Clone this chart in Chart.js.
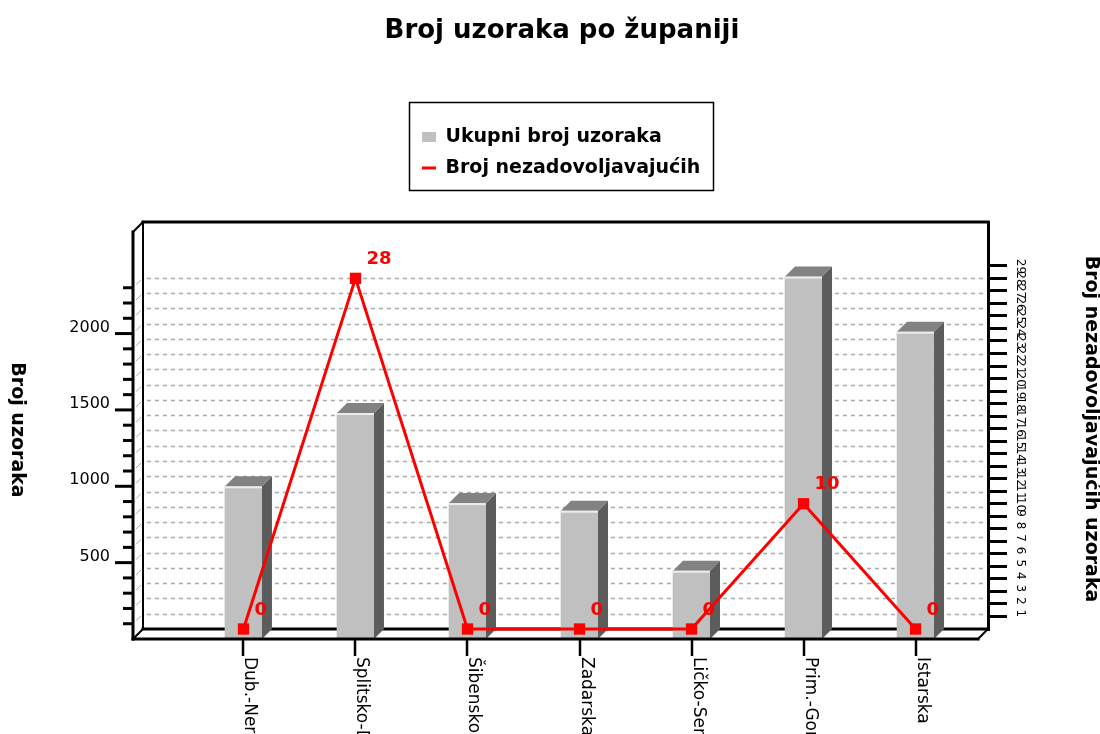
<!DOCTYPE html>
<html>
<head>
<meta charset="utf-8">
<script src="https://cdn.jsdelivr.net/npm/chart.js@4.4.1/dist/chart.umd.min.js"></script>
<style>
  html, body { margin: 0; padding: 0; background: #ffffff; }
  #wrap { width: 1100px; height: 734px; }
</style>
</head>
<body>
<div id="wrap"><canvas id="c" width="1100" height="734"></canvas></div>
<script>
// ---------- data ----------
const chartTitle = 'Broj uzoraka po županiji';
const categories = ['Dub.-Neretvanska', 'Splitsko-Dalmatinska', 'Šibensko-kninska', 'Zadarska', 'Ličko-Senjska', 'Prim.-Goranska', 'Istarska'];
const totalSamples = [1000, 1480, 890, 840, 447, 2373, 2012];
const nonCompliant = [0, 28, 0, 0, 0, 10, 0];
const seriesNames = ['Ukupni broj uzoraka', 'Broj nezadovoljavajućih'];
const leftAxisTitle = 'Broj uzoraka';
const rightAxisTitle = 'Broj nezadovoljavajućih uzoraka';
const leftTickLabels = [500, 1000, 1500, 2000];
const leftMinorTicks = [100, 200, 300, 400, 500, 600, 700, 800, 900, 1000, 1100, 1200, 1300, 1400, 1500, 1600, 1700, 1800, 1900, 2000, 2100, 2200, 2300];
const rightTickLabels = [1, 2, 3, 4, 5, 6, 7, 8, 9, 10, 11, 12, 13, 14, 15, 16, 17, 18, 19, 20, 21, 22, 23, 24, 25, 26, 27, 28, 29];

// ---------- style / layout ----------
const FONT = "'DejaVu Sans', 'Liberation Sans', Arial, sans-serif";
const DX = 10, DY = 10;              // 3D depth offset
const LEGEND_BOX = { x: 409, y: 102, w: 304, h: 88 };

const frame3d = {
  id: 'frame3d',
  afterLayout(chart) {
    const lg = chart.legend;
    if (!lg) return;
    lg.left = LEGEND_BOX.x + 1;
    lg.right = lg.left + 320;
    lg.top = LEGEND_BOX.y + 13.5;
    lg.bottom = lg.top + 200;
    lg.width = lg.right - lg.left;
    lg.height = lg.bottom - lg.top;
  },
  beforeDatasetsDraw(chart) {
    const { ctx, chartArea: a, scales } = chart;
    const y = scales.y, x = scales.x;
    ctx.save();
    // back-wall dashed grid
    ctx.strokeStyle = '#a9a9a9';
    ctx.lineWidth = 1.5;
    ctx.setLineDash([4, 4]);
    leftMinorTicks.forEach(v => {
      const py = Math.round(y.getPixelForValue(v) - DY) + 0.5;
      ctx.beginPath(); ctx.moveTo(a.left + 4, py); ctx.lineTo(a.right - 2, py); ctx.stroke();
    });
    ctx.setLineDash([]);
    ctx.lineWidth = 1;
    leftMinorTicks.forEach(v => {
      const py = y.getPixelForValue(v);
      ctx.beginPath(); ctx.moveTo(a.left - DX + 3, py - 3); ctx.lineTo(a.left - 2, py - DY + 2); ctx.stroke();
    });
    // 3D frame
    ctx.strokeStyle = '#000';
    ctx.lineCap = 'square';
    ctx.lineWidth = 2;
    ctx.beginPath(); ctx.moveTo(a.left, a.top); ctx.lineTo(a.left, a.bottom); ctx.stroke();
    ctx.lineWidth = 3;
    ctx.beginPath(); ctx.moveTo(a.left, a.top); ctx.lineTo(a.right, a.top); ctx.stroke();
    ctx.beginPath(); ctx.moveTo(a.left, a.bottom); ctx.lineTo(a.right, a.bottom); ctx.stroke();
    ctx.beginPath(); ctx.moveTo(a.left - DX, a.top + DY); ctx.lineTo(a.left - DX, a.bottom + DY); ctx.stroke();
    ctx.lineWidth = 2;
    ctx.beginPath(); ctx.moveTo(a.left - DX, a.top + DY); ctx.lineTo(a.left, a.top); ctx.stroke();
    ctx.beginPath(); ctx.moveTo(a.left - DX, a.bottom + DY); ctx.lineTo(a.left, a.bottom); ctx.stroke();
    // left axis tick marks on the front plane
    ctx.lineCap = 'butt';
    ctx.lineWidth = 3;
    leftMinorTicks.forEach(v => {
      const py = y.getPixelForValue(v);
      const len = (v % 500 === 0) ? 18 : 10;
      ctx.beginPath(); ctx.moveTo(a.left - DX - len, py); ctx.lineTo(a.left - DX, py); ctx.stroke();
    });
    // category tick marks
    ctx.lineWidth = 2.5;
    categories.forEach((c, i) => {
      const px = Math.round(x.getPixelForValue(i));
      ctx.beginPath(); ctx.moveTo(px, a.bottom + DY); ctx.lineTo(px, a.bottom + DY + 17); ctx.stroke();
    });
    ctx.restore();
  },
  afterDatasetDraw(chart, args) {
    if (args.index !== 0) return;
    const { ctx, chartArea: a } = chart;
    ctx.save();
    args.meta.data.forEach(bar => {
      const { x, y, base, width } = bar.getProps(['x', 'y', 'base', 'width'], true);
      const l = x - width / 2, r = x + width / 2;
      ctx.fillStyle = '#5c5c5c';
      ctx.beginPath(); ctx.moveTo(r, y); ctx.lineTo(r + DX, y - DY); ctx.lineTo(r + DX, base - DY); ctx.lineTo(r, base); ctx.closePath(); ctx.fill();
      ctx.fillStyle = '#828282';
      ctx.beginPath(); ctx.moveTo(l, y); ctx.lineTo(l + DX, y - DY); ctx.lineTo(r + DX, y - DY); ctx.lineTo(r, y); ctx.closePath(); ctx.fill();
      ctx.fillStyle = '#ececec';
      ctx.fillRect(l, y, width, 2);
    });
    // front floor edge
    ctx.strokeStyle = '#000';
    ctx.lineWidth = 3;
    ctx.lineCap = 'square';
    ctx.beginPath(); ctx.moveTo(a.left - DX, a.bottom + DY); ctx.lineTo(a.right - DX, a.bottom + DY); ctx.stroke();
    ctx.lineWidth = 2;
    ctx.beginPath(); ctx.moveTo(a.right - DX, a.bottom + DY); ctx.lineTo(a.right, a.bottom); ctx.stroke();
    ctx.restore();
  },
  afterDatasetsDraw(chart) {
    const { ctx, chartArea: a, scales } = chart;
    ctx.save();
    // value labels of the line series
    const lineMeta = chart.getDatasetMeta(1);
    ctx.fillStyle = '#ff0000';
    ctx.font = 'bold 18px ' + FONT;
    ctx.textAlign = 'left';
    ctx.textBaseline = 'middle';
    lineMeta.data.forEach((pt, i) => {
      ctx.fillText(String(nonCompliant[i]), pt.x + 11, pt.y - 19);
    });
    // category labels, rotated clockwise
    ctx.fillStyle = '#000';
    ctx.font = '17px ' + FONT;
    ctx.textBaseline = 'alphabetic';
    categories.forEach((c, i) => {
      const px = scales.x.getPixelForValue(i);
      ctx.save();
      ctx.translate(px + 2, a.bottom + DY + 18);
      ctx.rotate(Math.PI / 2);
      ctx.fillText(c, 0, 0);
      ctx.restore();
    });
    ctx.restore();
  },
  afterDraw(chart) {
    const { ctx } = chart;
    ctx.save();
    ctx.fillStyle = '#000';
    ctx.textAlign = 'center';
    ctx.textBaseline = 'middle';
    ctx.font = 'bold 26px ' + FONT;
    ctx.fillText(chartTitle, 562, 31);
    ctx.font = 'bold 19px ' + FONT;
    ctx.save(); ctx.translate(17, 430); ctx.rotate(Math.PI / 2); ctx.fillText(leftAxisTitle, 0, 0); ctx.restore();
    ctx.save(); ctx.translate(1091, 429); ctx.rotate(Math.PI / 2); ctx.fillText(rightAxisTitle, 0, 0); ctx.restore();
    ctx.strokeStyle = '#000';
    ctx.lineWidth = 1.5;
    ctx.strokeRect(LEGEND_BOX.x + 0.5, LEGEND_BOX.y + 0.5, LEGEND_BOX.w, LEGEND_BOX.h);
    ctx.restore();
  }
};

const ctx = document.getElementById('c').getContext('2d');
new Chart(ctx, {
  type: 'bar',
  data: {
    datasets: [
      {
        type: 'bar',
        label: seriesNames[0],
        data: categories.map((c, i) => ({ x: i, y: totalSamples[i] })),
        backgroundColor: '#c0c0c0',
        borderWidth: 0,
        barThickness: 37,
        base: 0,
        clip: false,
        yAxisID: 'y',
        order: 1,
        pointStyle: 'rect'
      },
      {
        type: 'line',
        label: seriesNames[1],
        data: categories.map((c, i) => ({ x: i, y: nonCompliant[i] })),
        borderColor: '#ff0000',
        backgroundColor: '#ff0000',
        borderWidth: 3,
        pointStyle: 'rect',
        pointRadius: 8,
        pointHoverRadius: 8,
        pointBorderWidth: 0,
        tension: 0,
        clip: false,
        yAxisID: 'y2',
        order: 0
      }
    ]
  },
  options: {
    responsive: false,
    animation: false,
    events: [],
    layout: { padding: { top: 222, left: 0, right: 0, bottom: 0 } },
    scales: {
      x: {
        type: 'linear', min: -0.897, max: 6.647, offset: false,
        grid: { display: false, offset: false }, border: { display: false }, ticks: { display: false },
        afterFit: s => { s.height = 105; }
      },
      y: {
        type: 'linear', position: 'left', min: 65.5, max: 2730.5,
        grid: { display: false, drawTicks: false }, border: { display: false },
        afterBuildTicks: s => { s.ticks = leftTickLabels.map(v => ({ value: v })); },
        ticks: {
          padding: 33, labelOffset: -6, color: '#000', autoSkip: false,
          font: { family: FONT, size: 16 },
          callback: v => String(v)
        },
        afterFit: s => { s.width = 143; }
      },
      y2: {
        type: 'linear', position: 'right', min: 0, max: 32.5,
        afterBuildTicks: s => { s.ticks = rightTickLabels.map(v => ({ value: v })); },
        grid: {
          drawOnChartArea: false, drawTicks: true, tickLength: 19, lineWidth: 3, color: '#000'
        },
        border: { display: true, color: '#000', width: 3 },
        ticks: {
          autoSkip: false, padding: 13, labelOffset: -7,
          minRotation: -90, maxRotation: -90, color: '#000',
          font: { family: FONT, size: 12 },
          callback: v => String(v)
        },
        afterFit: s => { s.width = 112; }
      }
    },
    plugins: {
      title: { display: false },
      tooltip: { enabled: false },
      legend: {
        display: true,
        position: 'chartArea',
        align: 'start',
        labels: {
          usePointStyle: true, pointStyleWidth: 14, boxHeight: 10, padding: 12,
          color: '#000', font: { family: FONT, size: 19, weight: 'bold' },
          sort: (a, b) => a.datasetIndex - b.datasetIndex,
          generateLabels: chart => {
            const items = Chart.defaults.plugins.legend.labels.generateLabels(chart);
            items.forEach(it => {
              if (it.datasetIndex === 1) { it.pointStyle = 'line'; it.strokeStyle = '#ff0000'; it.lineWidth = 3; }
              else { it.pointStyle = 'rect'; it.fillStyle = '#c0c0c0'; it.lineWidth = 0; }
            });
            return items;
          }
        }
      }
    }
  },
  plugins: [frame3d]
});
</script>
</body>
</html>
